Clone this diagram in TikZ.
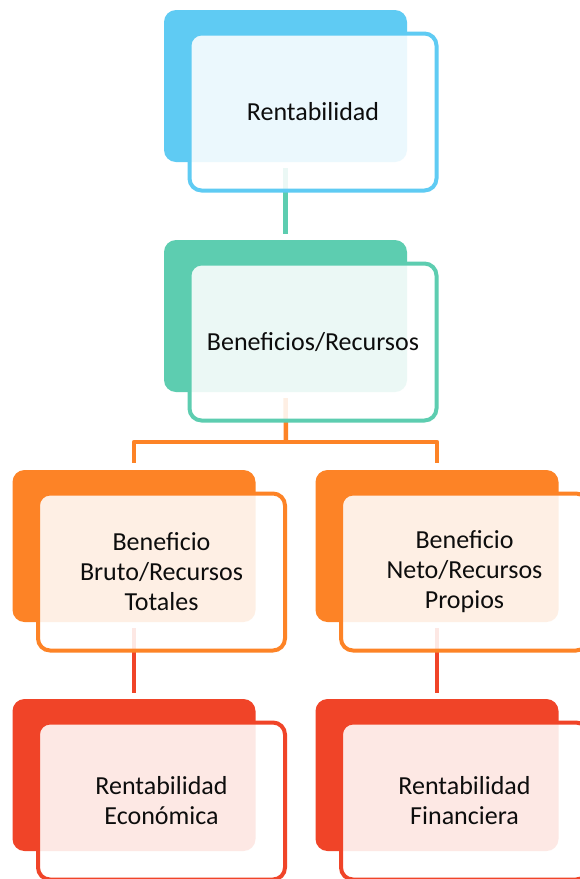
\documentclass[tikz,border=0pt]{standalone}
\usepackage{fontspec}
\setmainfont{Carlito}
\definecolor{cblue}{HTML}{5FCBF3}
\definecolor{cgreen}{HTML}{5DCDB0}
\definecolor{corange}{HTML}{FD8326}
\definecolor{cred}{HTML}{F04428}
\definecolor{ctext}{HTML}{0D0D0D}
\tikzset{
  solidbox/.style={rectangle, rounded corners=12pt, minimum width=243pt, minimum height=152pt, inner sep=0pt, fill=#1},
  framebox/.style={rectangle, rounded corners=12pt, minimum width=247pt, minimum height=157pt, inner sep=0pt,
    draw=#1, line width=4pt, fill=white, fill opacity=0.88, text opacity=1, text=ctext,
    align=center, font=\fontsize{26}{30}\selectfont},
  conn/.style={draw=#1, line width=4.5pt},
}
\begin{document}
\begin{tikzpicture}[x=1pt,y=-1pt]
\useasboundingbox (0,0) rectangle (580,879);
\fill[white] (0,0) rectangle (580,879);
% back solid boxes
\node[solidbox=cblue] (s1) at (285.5,86) {};
\node[solidbox=cgreen] (s2) at (285.5,316) {};
\node[solidbox=corange] (s3l) at (134,546) {};
\node[solidbox=corange] (s3r) at (437,546) {};
\node[solidbox=cred] (s4l) at (134,775) {};
\node[solidbox=cred] (s4r) at (437,775) {};
% connectors
\coordinate (b) at (286,442);
\draw[conn=cgreen] ([yshift=-6pt]s1.south) -- ([yshift=6pt]s2.north);
\draw[conn=corange] ([yshift=-6pt]s2.south) -- (b);
\draw[conn=corange, line join=round] ([yshift=7pt]s3l.north) |- (b) -| ([yshift=7pt]s3r.north);
\draw[conn=cred] ([yshift=-6pt]s3l.south) -- ([yshift=6pt]s4l.north);
\draw[conn=cred] ([yshift=-6pt]s3r.south) -- ([yshift=6pt]s4r.north);
% front framed boxes with text
\node[framebox=cblue] (f1) at (313,112) {Rentabilidad};
\node[framebox=cgreen] (f2) at (313,342) {Beneficios/Recursos};
\node[framebox=corange] (f3l) at (161.5,572) {Beneficio\\Bruto/Recursos\\Totales};
\node[framebox=corange] (f3r) at (464.5,572) {Beneficio\\Neto/Recursos\\Propios};
\node[framebox=cred] (f4l) at (161.5,801) {Rentabilidad\\Económica};
\node[framebox=cred] (f4r) at (464.5,801) {Rentabilidad\\Financiera};
\end{tikzpicture}
\end{document}
